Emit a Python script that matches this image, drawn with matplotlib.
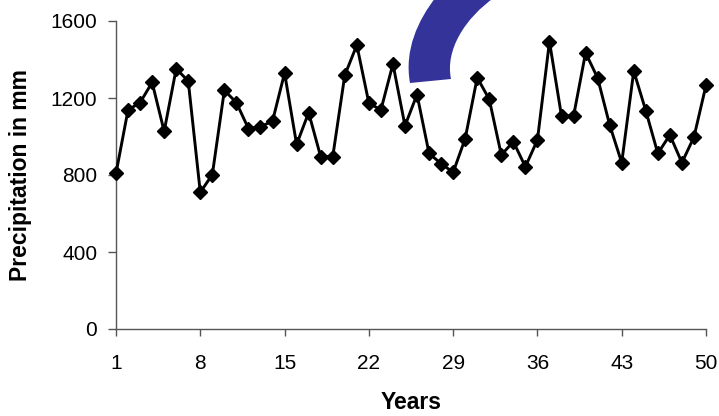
import matplotlib
matplotlib.use("Agg")
import matplotlib.pyplot as plt
from matplotlib.path import Path
from matplotlib.patches import PathPatch

years = list(range(1, 51))
precip = [809, 1138, 1176, 1281, 1027, 1352, 1288, 710, 802, 1240,
          1176, 1041, 1051, 1080, 1330, 959, 1124, 895, 895, 1318,
          1475, 1174, 1138, 1377, 1056, 1218, 912, 859, 814, 989,
          1306, 1193, 904, 973, 843, 982, 1493, 1106, 1106, 1435,
          1304, 1060, 864, 1340, 1134, 912, 1008, 864, 997, 1266]
xticks = [1, 8, 15, 22, 29, 36, 43, 50]
yticks = [0, 400, 800, 1200, 1600]

plt.rcParams['font.family'] = ['Liberation Sans', 'DejaVu Sans']

W, H = 719, 416
fig = plt.figure(figsize=(W / 100, H / 100), dpi=100)
ax = fig.add_axes([116 / W, 1 - 329 / H, (706 - 116) / W, (329 - 21) / H])

ax.plot(years, precip, color='black', lw=2.1, marker='D', markersize=7,
        markerfacecolor='black', markeredgecolor='black', clip_on=False, zorder=3)

ax.set_xlim(1, 50)
ax.set_ylim(0, 1600)
ax.set_xticks(xticks)
ax.set_yticks(yticks)
for s in ['top', 'right']:
    ax.spines[s].set_visible(False)
for s in ['left', 'bottom']:
    ax.spines[s].set_color('#555555')
    ax.spines[s].set_linewidth(1.0)
ax.tick_params(axis='x', direction='out', length=5, width=1, color='#555555',
               pad=13, labelsize=15)
ax.tick_params(axis='y', direction='out', length=6, width=1, color='#555555',
               pad=7.5, labelsize=15)
ax.set_xlabel('Years', fontsize=16.5, fontweight='bold')
ax.set_ylabel('Precipitation in mm', fontsize=16.5, fontweight='bold')
ax.xaxis.set_label_coords(0.5, -(391 - 329) / 308)
ax.yaxis.set_label_coords(-(116 - 32) / 590, 0.5)

# Decorative blue curved band (partial arrow) at top, in pixel coordinates
def px(x, y):
    return (x / W, 1 - y / H)

verts = [px(410, 83), px(451, 79),
         px(445, 50), px(465, 18), px(495, -3),
         px(436, -3),
         px(418, 20), px(404, 50), px(410, 83),
         px(410, 83)]
codes = [Path.MOVETO, Path.LINETO,
         Path.CURVE4, Path.CURVE4, Path.CURVE4,
         Path.LINETO,
         Path.CURVE4, Path.CURVE4, Path.CURVE4,
         Path.CLOSEPOLY]
patch = PathPatch(Path(verts, codes), transform=fig.transFigure,
                  facecolor='#333399', edgecolor='none', zorder=5)
fig.patches.append(patch)

fig.savefig('out.png', dpi=100)
